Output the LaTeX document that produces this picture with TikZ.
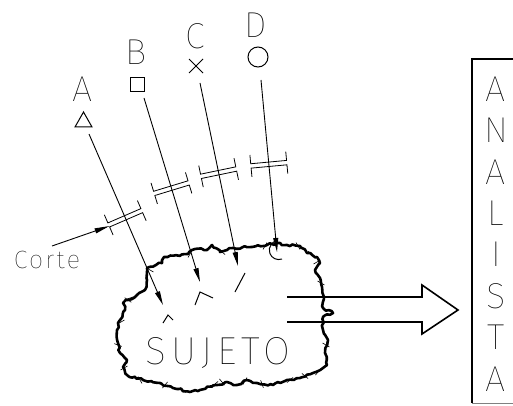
\documentclass[tikz,border=0pt]{standalone}
\usepackage{fontspec}
\newfontfamily\cadfont{Fira Sans Thin}
\usetikzlibrary{arrows.meta,decorations.pathmorphing,decorations.markings}
\begin{document}
\begin{tikzpicture}[x=1pt,y=-1pt,
  conn/.style={line width=0.9pt,-{Triangle[length=14pt,width=5pt]}},
  cutmark/.style={postaction={decorate,decoration={markings,mark=at position #1 with {\draw[-,line width=0.8pt] (-11,-18)--(-2.2,-18)--(-2.2,18)--(-11,18) (11,-18)--(2.2,-18)--(2.2,18)--(11,18);}}}},
  lbl/.style={font=\cadfont\fontsize{36}{36}\selectfont, inner sep=0pt},
  sym/.style={line width=1pt},
  cloudline/.style={line width=2.6pt, line join=round, decorate, decoration={random steps,segment length=3pt,amplitude=1.2pt}},
  tickline/.style={line width=0.6pt},
  bigarrow/.style={line width=1.6pt, line join=miter},
]
\useasboundingbox (0,0) rectangle (513,406);
\clip (0,0) rectangle (513,406);

% labels and symbols
\node[lbl] (lA) at (83,89) {A};
\node[lbl] (lB) at (136,52) {B};
\node[lbl] (lC) at (195,36) {C};
\node[lbl] (lD) at (256,25) {D};
\draw[sym] (75,127) -- (92,127) -- (83.5,112) -- cycle;
\draw[sym] (130,78) rectangle (144,92);
\draw[sym] (189,59) -- (203,73) (203,59) -- (189,73);
\draw[sym] (258,57) circle[radius=10];

% cloud (SUJETO)
\pgfmathsetseed{7}
\draw[cloudline] (147,268) -- (162,263) -- (164,257) -- (188,254) -- (195,249) -- (207,250) -- (212,245) -- (220,252) -- (227,250) -- (233,248) -- (252,247) -- (267,245) -- (277,243) -- (287,245) -- (300,246) -- (307,253) -- (317,257) -- (320,263) -- (315,270) -- (320,278) -- (322,287) -- (324,297) -- (323,308) -- (333,313) -- (323,317) -- (323,330) -- (328,340) -- (325,353) -- (327,365) -- (313,373) -- (300,378) -- (287,380) -- (273,385) -- (257,383) -- (247,380) -- (237,385) -- (227,382) -- (217,385) -- (200,390) -- (190,392) -- (173,388) -- (160,383) -- (143,380) -- (127,375) -- (123,367) -- (127,360) -- (120,353) -- (118,343) -- (117,330) -- (120,320) -- (125,310) -- (123,303) -- (128,300) -- (137,295) -- (145,290) -- (147,280) -- cycle;
\foreach \x/\y/\a in {128/300/35, 121/322/150, 118/345/20, 124/368/-30, 140/380/60, 165/385/-50, 183/390/40, 215/384/-40, 222/382/50, 245/381/-60, 262/384/70, 290/380/-40, 305/376/40, 318/372/-50, 326/345/30, 321/283/30, 317/262/-30, 298/246/60, 265/246/-60, 222/252/40, 190/254/-60, 150/270/30, 130/298/-20, 311/254/45}
  \draw[tickline] (\x,\y) ++(\a:4) -- ++(\a+180:8);

% marks inside the subject
\draw[sym] (163,323) -- (168,315) -- (173,320);
\draw[sym] (195,305) -- (200,292) -- (213,298);
\draw[sym] (235,292) -- (245,273);
\draw[sym] (282,259) arc[start angle=70,end angle=252,radius=9.5];

\node[font=\cadfont\fontsize{39}{39}\selectfont, inner sep=0pt] (sujeto) at (218,353) {\addfontfeatures{LetterSpace=13}SUJETO};

% connectors
\coordinate (a0) at (89,134);  \coordinate (a1) at (163,305);
\coordinate (b0) at (144,98);  \coordinate (b1) at (200,282);
\coordinate (c0) at (200,83);  \coordinate (c1) at (238,266);
\coordinate (d0) at (261,80);  \coordinate (d1) at (277,252);
\draw[conn,cutmark=0.49] (a0) -- (a1);
\draw[conn,cutmark=0.49] (b0) -- (b1);
\draw[conn,cutmark=0.49] (c0) -- (c1);
\draw[conn,cutmark=0.49] (d0) -- (d1);

% Corte
\node[font=\cadfont\fontsize{25}{25}\selectfont, inner sep=0pt] (corte) at (47,260) {\addfontfeatures{LetterSpace=9}Corte};
\coordinate (corteTail) at (52,246);
\coordinate (cutAend) at (109.5,226);
\draw[line width=0.9pt,-{Triangle[length=15pt,width=5pt]}] (corteTail) -- (cutAend);

% big arrow
\draw[bigarrow] (287,297) -- (422,297) -- (422,285) -- (458,310) -- (422,334) -- (422,322) -- (287,322);

% ANALISTA box
\draw[line width=2pt] (520,59) -- (472,59) -- (472,403);
\draw[line width=0.8pt, gray] (472,403) -- (520,403);
\node[font=\cadfont\fontsize{36}{41.4}\selectfont, inner sep=0pt, align=center] (analista) at (496,234) {A\\N\\A\\L\\I\\S\\T\\A};
\end{tikzpicture}
\end{document}
